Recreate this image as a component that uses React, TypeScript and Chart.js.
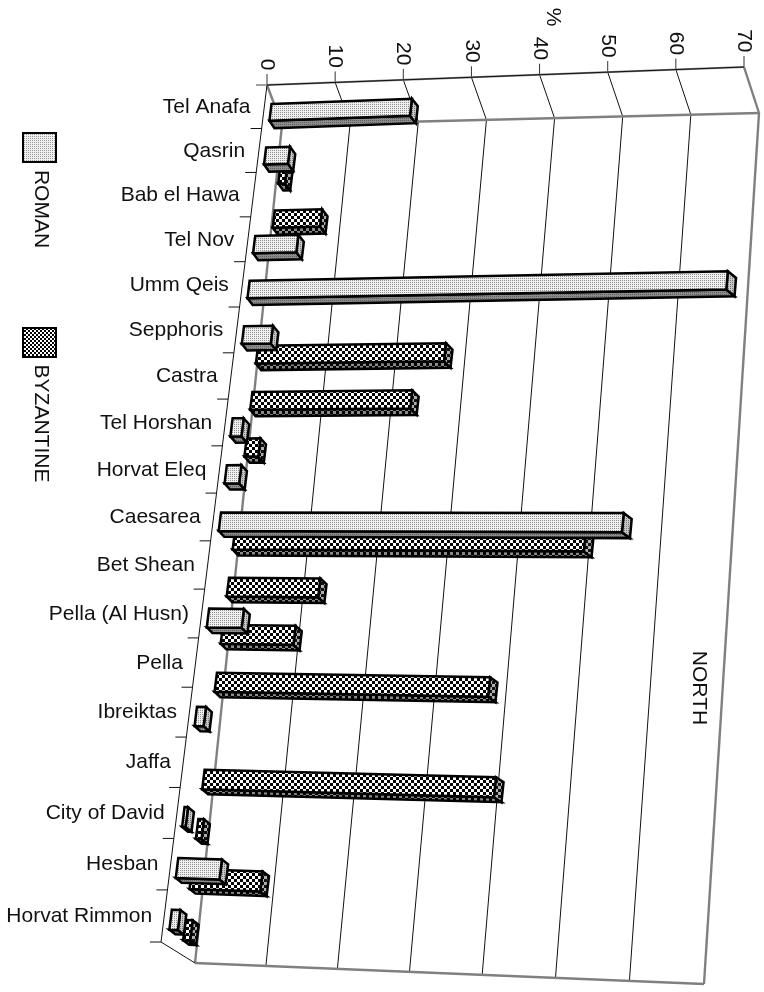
import React, { useEffect, useRef } from "react";
import { Chart, registerables } from "chart.js";

Chart.register(...registerables);

const categories = [
  "Tel Anafa", "Qasrin", "Bab el Hawa", "Tel Nov", "Umm Qeis", "Sepphoris",
  "Castra", "Tel Horshan", "Horvat Eleq", "Caesarea", "Bet Shean", "Pella (Al Husn)",
  "Pella", "Ibreiktas", "Jaffa", "City of David", "Hesban", "Horvat Rimmon",
];
const roman = [20.6, 3.5, null, 6.3, 69.2, 4.2, null, 1.6, 2.1, 57.4, null, 5, null, 1.3, null, 0.5, 6.2, 1.2];
const byzantine = [null, 1, 6.9, null, null, 27.2, 23.1, 2, null, 50, 13.1, 10.4, 38.7, null, 41, 0.8, 10, 1];
const valueMax = 70;
const valueStep = 10;
const valueTitle = "%";
const regionLabel = "NORTH";

type Pt = [number, number];
const FONT = '"Liberation Sans", Arial, sans-serif';
const TEXT_SIZE = 21;
const GREY = "#808080";

// Perspective easing: spacing grows gently toward the far end of a 0..1 range.
const warp = (t: number, a: number) => t / (a - (a - 1) * t);
const bilinear = (q: Pt[], u: number, w: number): Pt => {
  const [a, b, c, d] = q;
  const x = (a[0] * (1 - u) + b[0] * u) * (1 - w) + (c[0] * (1 - u) + d[0] * u) * w;
  const y = (a[1] * (1 - u) + b[1] * u) * (1 - w) + (c[1] * (1 - u) + d[1] * u) * w;
  return [x, y];
};
const project = (q: Pt[], u: number, w: number): Pt => {
  const wp = warp(w, 1.1);
  return bilinear(q, warp(u, 1 + 0.03 * wp), wp);
};

// Corner order: value 0 / value max on the first category edge, then on the last.
const axisPlane: Pt[] = [[267, 85], [744, 67], [161, 942], [670, 963]];
const wallPlane: Pt[] = [[282, 125], [759, 113], [195, 963], [704, 984]];
const barPlane: Pt[] = [[272, 100], [749, 82], [166, 957], [675, 978]];

// The second series stands further back; the view direction changes down the rows.
const seriesShift = (series: number, w: number): Pt =>
  series === 0 ? [0, 0] : [16.5, Math.max(-12, Math.min(0, -24 * (w - 0.45)))];
const depthAt = (u: number, w: number): Pt => [5 + 3 * u + w, 7.5 - 3 * w];

const poly = (ctx: CanvasRenderingContext2D, pts: Pt[], fill: CanvasPattern | string) => {
  ctx.beginPath();
  pts.forEach((p, i) => (i ? ctx.lineTo(p[0], p[1]) : ctx.moveTo(p[0], p[1])));
  ctx.closePath();
  ctx.fillStyle = fill;
  ctx.fill();
  ctx.stroke();
};
const seg = (ctx: CanvasRenderingContext2D, a: Pt, b: Pt, color: string, width: number) => {
  ctx.strokeStyle = color;
  ctx.lineWidth = width;
  ctx.beginPath();
  ctx.moveTo(a[0], a[1]);
  ctx.lineTo(b[0], b[1]);
  ctx.stroke();
};
const turnedText = (ctx: CanvasRenderingContext2D, text: string, x: number, y: number, size: number) => {
  ctx.save();
  ctx.translate(x, y);
  ctx.rotate(Math.PI / 2);
  ctx.font = `${size}px ${FONT}`;
  ctx.fillStyle = "#111";
  ctx.textAlign = "center";
  ctx.textBaseline = "middle";
  ctx.fillText(text, 0, 0);
  ctx.restore();
};

// Small tiles for the stippled and chequered bar faces.
const dots = (period: number, bg: string, fg: string, size: number) => {
  const c = document.createElement("canvas");
  c.width = c.height = period;
  const g = c.getContext("2d")!;
  g.fillStyle = bg;
  g.fillRect(0, 0, period, period);
  g.fillStyle = fg;
  g.fillRect(0, 0, size, size);
  return c;
};
const checker = (cell: number, a: string, b: string) => {
  const c = document.createElement("canvas");
  c.width = c.height = cell * 2;
  const g = c.getContext("2d")!;
  g.fillStyle = a;
  g.fillRect(0, 0, cell * 2, cell * 2);
  g.fillStyle = b;
  g.fillRect(0, 0, cell, cell);
  g.fillRect(cell, cell, cell, cell);
  return c;
};

const App = () => {
  const ref = useRef<HTMLCanvasElement>(null);

  useEffect(() => {
    const canvas = ref.current!;
    const base = canvas.getContext("2d")!;
    const fills = {
      Roman: {
        front: base.createPattern(dots(2, "#f0f0f0", "#909090", 1), "repeat")!,
        under: base.createPattern(dots(2, "#8c8c8c", "#606060", 1), "repeat")!,
        side: base.createPattern(dots(2, "#c8c8c8", "#777777", 1), "repeat")!,
      },
      Byzantine: {
        front: base.createPattern(checker(3, "#000000", "#ffffff"), "repeat")!,
        under: base.createPattern(checker(3, "#000000", "#8a8a8a"), "repeat")!,
        side: base.createPattern(checker(3, "#111111", "#b0b0b0"), "repeat")!,
      },
    };
    const swatch = {
      Roman: base.createPattern(dots(2, "#f0f0f0", "#989898", 1), "repeat")!,
      Byzantine: base.createPattern(checker(2, "#000000", "#ffffff"), "repeat")!,
    };

    const frame = {
      id: "frame",
      beforeDatasetsDraw(chart: any) {
        const ctx: CanvasRenderingContext2D = chart.ctx;
        const { x: xs, y: ys } = chart.scales;
        const area = chart.chartArea;
        ctx.save();
        ctx.lineCap = "butt";
        const us = xs.ticks.map((t: any) => (xs.getPixelForValue(t.value) - area.left) / area.width);

        us.forEach((u: number, i: number) => {
          const front = project(axisPlane, u, 0);
          const backTop = project(wallPlane, u, 0);
          const backBottom = project(wallPlane, u, 1);
          seg(ctx, [front[0], front[1] - 11], front, "#333", 1);
          const edge = i === 0 || i === us.length - 1;
          seg(ctx, front, backTop, edge ? GREY : "#111", edge ? 2.4 : 1);
          if (!edge) seg(ctx, backTop, backBottom, "#111", 1);
        });

        // Back wall outline and the two front axis lines.
        seg(ctx, project(wallPlane, 0, 0), project(wallPlane, 1, 0), GREY, 2.4);
        seg(ctx, project(wallPlane, 0, 0), project(wallPlane, 0, 1), GREY, 2.4);
        seg(ctx, project(wallPlane, 1, 0), project(wallPlane, 1, 1), GREY, 2.4);
        seg(ctx, project(wallPlane, 0, 1), project(wallPlane, 1, 1), GREY, 2.4);
        seg(ctx, project(axisPlane, 0, 0), project(axisPlane, 1, 0), GREY, 2);
        seg(ctx, project(axisPlane, 0, 0), project(axisPlane, 1, 0), "#111", 1);
        seg(ctx, project(axisPlane, 0, 0), project(axisPlane, 0, 1), "#111", 1);
        seg(ctx, project(axisPlane, 0, 1), project(wallPlane, 0, 1), "#111", 1);

        // Category ticks sit on the boundaries between rows.
        const step = ys.getPixelForValue(1) - ys.getPixelForValue(0);
        categories.forEach((_, i) => {
          const centre = ys.getPixelForValue(i);
          const w = (centre + step / 2 - area.top) / area.height;
          const p = project(axisPlane, 0, w);
          seg(ctx, [p[0] - 11, p[1]], p, "#111", 1);
        });
        const corner = project(axisPlane, 0, 0);
        seg(ctx, [corner[0] - 11, corner[1]], corner, GREY, 1.5);
        ctx.restore();
      },
      afterDatasetsDraw(chart: any) {
        const ctx: CanvasRenderingContext2D = chart.ctx;
        const { x: xs, y: ys } = chart.scales;
        const area = chart.chartArea;
        ctx.save();
        ctx.strokeStyle = "#000";
        ctx.lineWidth = 2.5;
        ctx.lineJoin = "miter";

        // Within a row the Byzantine block goes down first, so the Roman one overlaps it.
        categories.forEach((_, index) => {
          [1, 0].forEach((dsIndex) => {
            const el = chart.getDatasetMeta(dsIndex).data[index];
            if (!el || chart.data.datasets[dsIndex].data[index] == null) return;
            const fill = dsIndex === 0 ? fills.Roman : fills.Byzantine;
            const u0 = (el.base - area.left) / area.width;
            const u1 = (el.x - area.left) / area.width;
            const w0 = (el.y - el.height / 2 - area.top) / area.height;
            const w1 = (el.y + el.height / 2 - area.top) / area.height;
            const shift = seriesShift(dsIndex, w0);
            const at = (u: number, w: number): Pt => {
              const p = project(barPlane, u, w);
              return [p[0] + shift[0], p[1] + shift[1]];
            };
            const tl = at(u0, w0);
            const tr = at(u1, w0);
            const br = at(u1, w1);
            const bl = at(u0, w1);
            const d0 = depthAt(u0, w1);
            const d1 = depthAt(u1, w1);
            const move = (p: Pt, d: Pt): Pt => [p[0] + d[0], p[1] + d[1]];
            poly(ctx, [bl, br, move(br, d1), move(bl, d0)], fill.under);
            poly(ctx, [tr, move(tr, d1), move(br, d1), br], fill.side);
            poly(ctx, [tl, tr, br, bl], fill.front);
          });
        });

        // Category labels to the left of the slanted axis.
        ctx.font = `${TEXT_SIZE}px ${FONT}`;
        ctx.fillStyle = "#111";
        ctx.textAlign = "right";
        ctx.textBaseline = "middle";
        categories.forEach((name, i) => {
          const w = (ys.getPixelForValue(i) - area.top) / area.height;
          const p = project(axisPlane, 0, w);
          ctx.fillText(name, p[0] - 14 + 2 * w, p[1] + 0.5);
        });

        // Value labels, turned a quarter clockwise above their ticks.
        xs.ticks.forEach((t: any) => {
          const u = (xs.getPixelForValue(t.value) - area.left) / area.width;
          const p = project(axisPlane, u, 0);
          const half = ctx.measureText(String(t.value)).width / 2;
          turnedText(ctx, String(t.value), p[0], p[1] - 14.5 - half, TEXT_SIZE);
        });

        turnedText(ctx, valueTitle, 553, 17, TEXT_SIZE);
        turnedText(ctx, regionLabel, 699, 688, TEXT_SIZE);

        // Legend column on the far left.
        ctx.lineWidth = 2;
        ctx.strokeStyle = "#000";
        poly(ctx, [[23, 133], [56, 133], [56, 162], [23, 162]], swatch.Roman);
        poly(ctx, [[23, 328], [56, 328], [56, 357], [23, 357]], swatch.Byzantine);
        turnedText(ctx, chart.data.datasets[0].label, 41, 209, TEXT_SIZE);
        turnedText(ctx, chart.data.datasets[1].label, 41, 423.5, TEXT_SIZE);
        ctx.restore();
      },
    };

    const chart = new Chart(canvas, {
      type: "bar",
      data: {
        labels: categories,
        datasets: [
          { label: "ROMAN", data: roman, backgroundColor: "transparent" },
          { label: "BYZANTINE", data: byzantine, backgroundColor: "transparent" },
        ],
      },
      options: {
        indexAxis: "y",
        responsive: false,
        animation: false,
        events: [],
        layout: { padding: 0 },
        categoryPercentage: 0.86,
        barPercentage: 0.9,
        scales: {
          x: { min: 0, max: valueMax, ticks: { stepSize: valueStep }, display: false },
          y: { type: "category", offset: true, display: false },
        },
        plugins: { legend: { display: false }, tooltip: { enabled: false } },
      } as any,
      plugins: [frame],
    });
    return () => chart.destroy();
  }, []);

  return (
    <canvas
      ref={ref}
      width={764}
      height={992}
      style={{ position: "absolute", left: 0, top: 0, display: "block" }}
    />
  );
};

export default App;
